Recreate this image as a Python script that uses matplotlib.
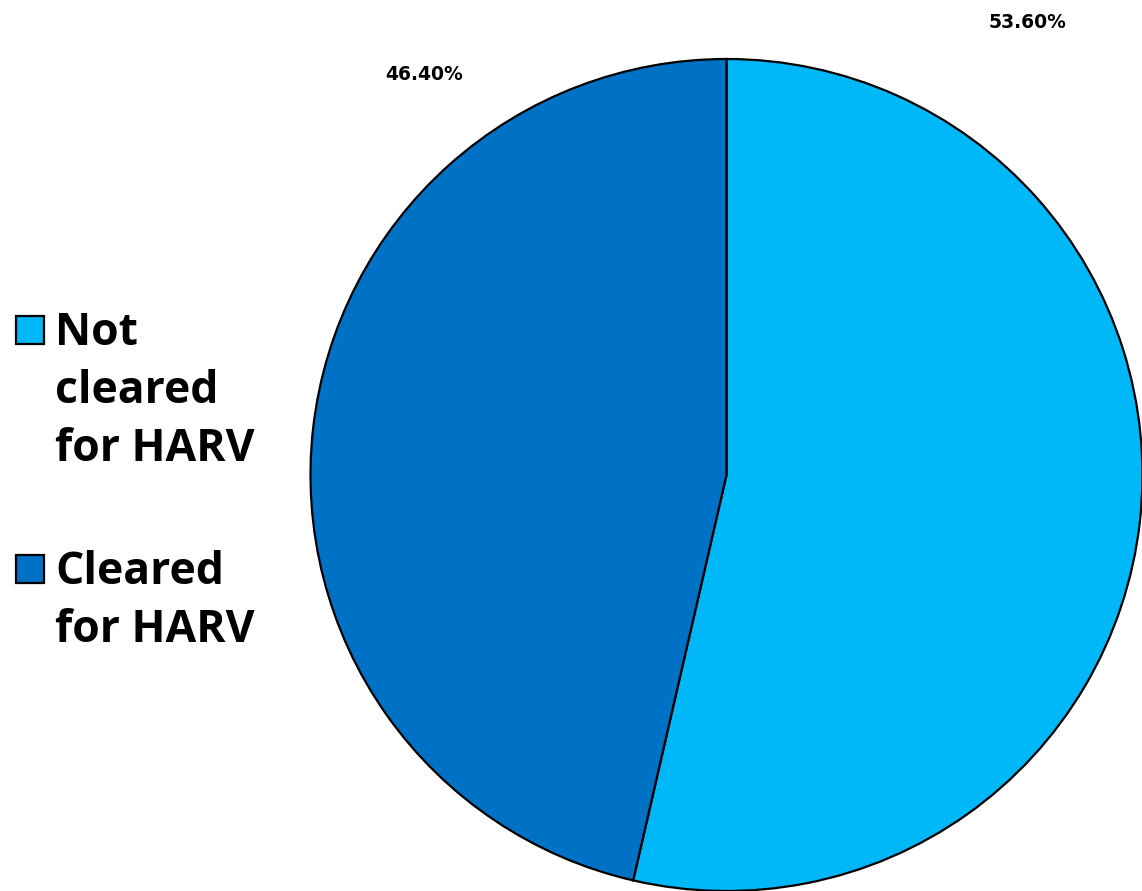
import matplotlib
matplotlib.use("Agg")
import matplotlib.pyplot as plt
from matplotlib.patches import Rectangle

labels = ["Not\ncleared\nfor HARV", "Cleared\nfor HARV"]
values = [53.6, 46.4]
colors = ["#00B8F8", "#0072C6"]

W, H = 1142, 891
fig = plt.figure(figsize=(W / 100, H / 100), dpi=100)

cx, cy, r = 726.5, 475.0, 416.0
ax = fig.add_axes([(cx - r) / W, (H - cy - r) / H, 2 * r / W, 2 * r / H])
ax.pie(values, colors=colors, startangle=90, counterclock=False,
       wedgeprops=dict(edgecolor="black", linewidth=1.6), radius=1.0)
ax.set_xlim(-1.0, 1.0)
ax.set_ylim(-1.0, 1.0)
ax.set_aspect("equal")
ax.axis("off")

font = ["Open Sans", "DejaVu Sans"]
# percent labels
label_pos = [(1028, 22), (424, 74)]
for v, (px, py) in zip(values, label_pos):
    fig.text(px / W, 1 - py / H, f"{v:.2f}%", ha="center", va="center",
             fontsize=13.5, fontweight="bold", family="DejaVu Sans")

# legend
leg_y = [330, 569]
line_gap = 58
for lab, col, y in zip(labels, colors, leg_y):
    fig.patches.append(Rectangle((16 / W, 1 - (y + 14) / H), 28 / W, 28 / H,
                                 transform=fig.transFigure, facecolor=col,
                                 edgecolor="black", linewidth=1.6))
    for i, line in enumerate(lab.split("\n")):
        fig.text(55 / W, 1 - (y + 15 + i * line_gap) / H, line, ha="left",
                 va="baseline", fontsize=32, fontweight="bold", family=font)

fig.savefig("out.png", dpi=100)
